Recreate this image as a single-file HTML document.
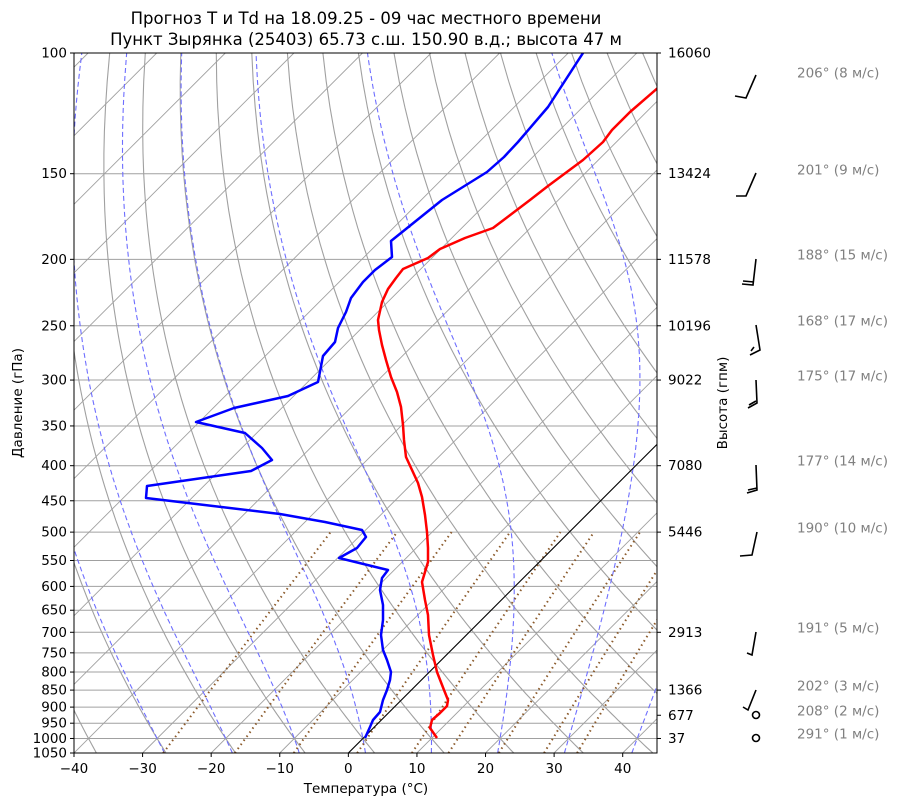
<!DOCTYPE html>
<html><head><meta charset="utf-8"><style>
body{margin:0;background:#fff}
svg text{font-family:"DejaVu Sans","Liberation Sans",sans-serif}
</style></head><body>
<svg id="s" width="900" height="806" xmlns="http://www.w3.org/2000/svg">
<defs><clipPath id="c"><rect x="74" y="53" width="583" height="700"/></clipPath></defs>
<g id="grid" clip-path="url(#c)"></g>
<g id="fg"></g>
</svg>
<script>
const NS="http://www.w3.org/2000/svg";
const g=document.getElementById('grid'),fg=document.getElementById('fg');
const L=74,R=657,T=53,B=753,K=6.8588,LN=Math.log(10.5);
const yOf=p=>T+700*Math.log(p/100)/LN;
const xOf=(t,p)=>L+(t+40)*K+(B-yOf(p));
function el(par,n,a,txt){const e=document.createElementNS(NS,n);for(const k in a)e.setAttribute(k,a[k]);if(txt!==undefined)e.textContent=txt;par.appendChild(e);return e;}
function pl(par,pts,st){el(par,'polyline',Object.assign({points:pts.map(q=>q[0].toFixed(1)+','+q[1].toFixed(1)).join(' '),fill:'none'},st));}
const P=[100,150,200,250,300,350,400,450,500,550,600,650,700,750,800,850,900,950,1000,1050];
P.forEach(p=>el(g,'line',{x1:L,x2:R,y1:yOf(p),y2:yOf(p),stroke:'#a0a0a0','stroke-width':1}));
for(let t=-150;t<=50;t+=10){pl(g,[[xOf(t,1050),B],[xOf(t,100),T]],{stroke:'#a0a0a0','stroke-width':0.9});}
for(let t0=-40;t0<=200;t0+=10){const th=t0+273.15;const pts=[];for(let p=1050;p>=100;p-=10){const tt=th*Math.pow(p/1000,0.2857)-273.15;pts.push([xOf(tt,p),yOf(p)]);}pl(g,pts,{stroke:'#a0a0a0','stroke-width':1.1});}
const Rd=287.04,Cp=1005.7,Lv=2.501e6,eps=0.622;
function es(Tk){const t=Tk-273.15;return 6.112*Math.exp(17.67*t/(t+243.5));}
function dTdp(Tk,p){const e=es(Tk);const rs=eps*e/(p-e);return (Rd*Tk+Lv*rs)/(Cp+Lv*Lv*rs*eps/(Rd*Tk*Tk))/p;}
function integ(Tk,p,pend,dp){const out=[];while((dp<0&&p>pend)||(dp>0&&p<pend)){const k1=dTdp(Tk,p),k2=dTdp(Tk+k1*dp/2,p+dp/2),k3=dTdp(Tk+k2*dp/2,p+dp/2),k4=dTdp(Tk+k3*dp,p+dp);Tk+=dp*(k1+2*k2+2*k3+k4)/6;p+=dp;out.push([xOf(Tk-273.15,p),yOf(p)]);}return out;}
for(let t0=-30;t0<=40;t0+=10){const Tk=t0+273.15;const down=integ(Tk,1000,1050,2).reverse();const up=integ(Tk,1000,100,-2);const pts=down.concat([[xOf(t0,1000),yOf(1000)]],up);pl(g,pts,{stroke:'#6e6eff','stroke-width':1.1,'stroke-dasharray':'5,3'});}
[0.0004,0.001,0.002,0.004,0.007,0.01,0.016,0.024,0.032].forEach(w=>{const pts=[];for(let p=1050;p>=500;p-=10){const e=p*w/(eps+w);const a=Math.log(e/6.112);const td=243.5*a/(17.67-a);pts.push([xOf(td,p),yOf(p)]);}pl(g,pts,{stroke:'#8b5a2b','stroke-width':2,'stroke-dasharray':'1.5,3.5'});});
pl(g,[[xOf(0,1050),B],[xOf(0,100),T]],{stroke:'#000','stroke-width':1.1});
const red=[[437,738],[430,728],[432,720],[440,713],[447,706],[448,700],[444,690],[437,672],[433,655],[429,635],[428,615],[425,600],[422,582],[425,572],[428,562],[428,548],[427,532],[425,515],[422,497],[418,483],[412,470],[406,457],[404,440],[403,425],[401,407],[397,392],[391,377],[386,360],[382,345],[379,330],[378,320],[382,302],[388,289],[396,278],[403,269],[428,258],[440,249],[465,238],[493,228],[530,200],[548,186],[583,160],[603,142],[612,130],[630,112],[660,86]];
const blue=[[365,738],[370,727],[373,720],[380,712],[383,700],[387,690],[390,680],[391,672],[387,660],[383,650],[381,635],[383,620],[383,605],[380,590],[382,578],[388,570],[339,558],[357,548],[366,537],[362,530],[325,522],[280,514],[146,498],[147,486],[251,471],[272,460],[262,448],[245,433],[196,422],[234,408],[288,396],[318,382],[323,356],[335,342],[338,328],[346,312],[351,298],[363,282],[375,270],[392,257],[391,241],[442,200],[487,172],[504,157],[518,142],[548,107],[583,53]];
pl(g,red,{stroke:'#f00','stroke-width':2.5,'stroke-linejoin':'round'});
pl(g,blue,{stroke:'#00f','stroke-width':2.5,'stroke-linejoin':'round'});
el(fg,'rect',{x:L,y:T,width:R-L,height:B-T,fill:'none',stroke:'#000','stroke-width':1});
P.forEach(p=>{const y=yOf(p);el(fg,'line',{x1:L-4,x2:L,y1:y,y2:y,stroke:'#000'});el(fg,'text',{x:L-7,y:y+4.5,'font-size':13.5,'text-anchor':'end'},p);});
for(let t=-40;t<=40;t+=10){const x=L+(t+40)*K;el(fg,'line',{x1:x,x2:x,y1:B,y2:B+4,stroke:'#000'});el(fg,'text',{x:x,y:B+20,'font-size':13.5,'text-anchor':'middle'},t<0?'\u2212'+(-t):t);}
[[100,16060],[150,13424],[200,11578],[250,10196],[300,9022],[400,7080],[500,5446],[700,2913],[850,1366],[925,677],[1000,37]].forEach(([p,h])=>{const y=yOf(p);el(fg,'line',{x1:R,x2:R+4,y1:y,y2:y,stroke:'#000'});el(fg,'text',{x:R+11,y:y+4.5,'font-size':13.5},h);});
el(fg,'text',{x:366,y:24,'font-size':16.5,'text-anchor':'middle'},'Прогноз T и Td на 18.09.25 - 09 час местного времени');
el(fg,'text',{x:366,y:45,'font-size':16.5,'text-anchor':'middle'},'Пункт Зырянка (25403) 65.73 с.ш. 150.90 в.д.; высота 47 м');
el(fg,'text',{x:366,y:793,'font-size':13.5,'text-anchor':'middle'},'Температура (°C)');
el(fg,'text',{x:0,y:0,'font-size':13.5,'text-anchor':'middle',transform:'translate(22,403) rotate(-90)'},'Давление (гПа)');
el(fg,'text',{x:0,y:0,'font-size':13.5,'text-anchor':'middle',transform:'translate(727,403) rotate(-90)'},'Высота (гпм)');
const bs={stroke:'#000','stroke-width':1.6};
[[[756,75],[746,98],[735,96]],[[756,173],[746,196],[736,196]],[[756,259],[753,285],[742,284]],[[756,325],[760,350],[750,355]],[[756,380],[757,403],[748,408]],[[756,465],[757,490],[747,493]],[[757,532],[752,555],[740,556]],[[756,632],[752,655],[747,653]],[[756,690],[748,710],[743,707]]].forEach(b=>pl(fg,b,bs));
[[754,282,743,281],[754,347,751,351],[756,401,749,405],[757,488,748,490]].forEach(a=>el(fg,'line',{x1:a[0],y1:a[1],x2:a[2],y2:a[3],stroke:'#000','stroke-width':1.6}));
el(fg,'circle',{cx:756,cy:715,r:3.5,fill:'none',stroke:'#000','stroke-width':1.6});
el(fg,'circle',{cx:756,cy:738,r:3.5,fill:'none',stroke:'#000','stroke-width':1.6});
[[73,'206° (8 м/с)'],[170,'201° (9 м/с)'],[255,'188° (15 м/с)'],[321,'168° (17 м/с)'],[376,'175° (17 м/с)'],[461,'177° (14 м/с)'],[528,'190° (10 м/с)'],[628,'191° (5 м/с)'],[686,'202° (3 м/с)'],[711,'208° (2 м/с)'],[734,'291° (1 м/с)']].forEach(([y,t])=>el(fg,'text',{x:797,y:y+4.5,'font-size':13.5,fill:'#808080'},t));
</script>
</body></html>
